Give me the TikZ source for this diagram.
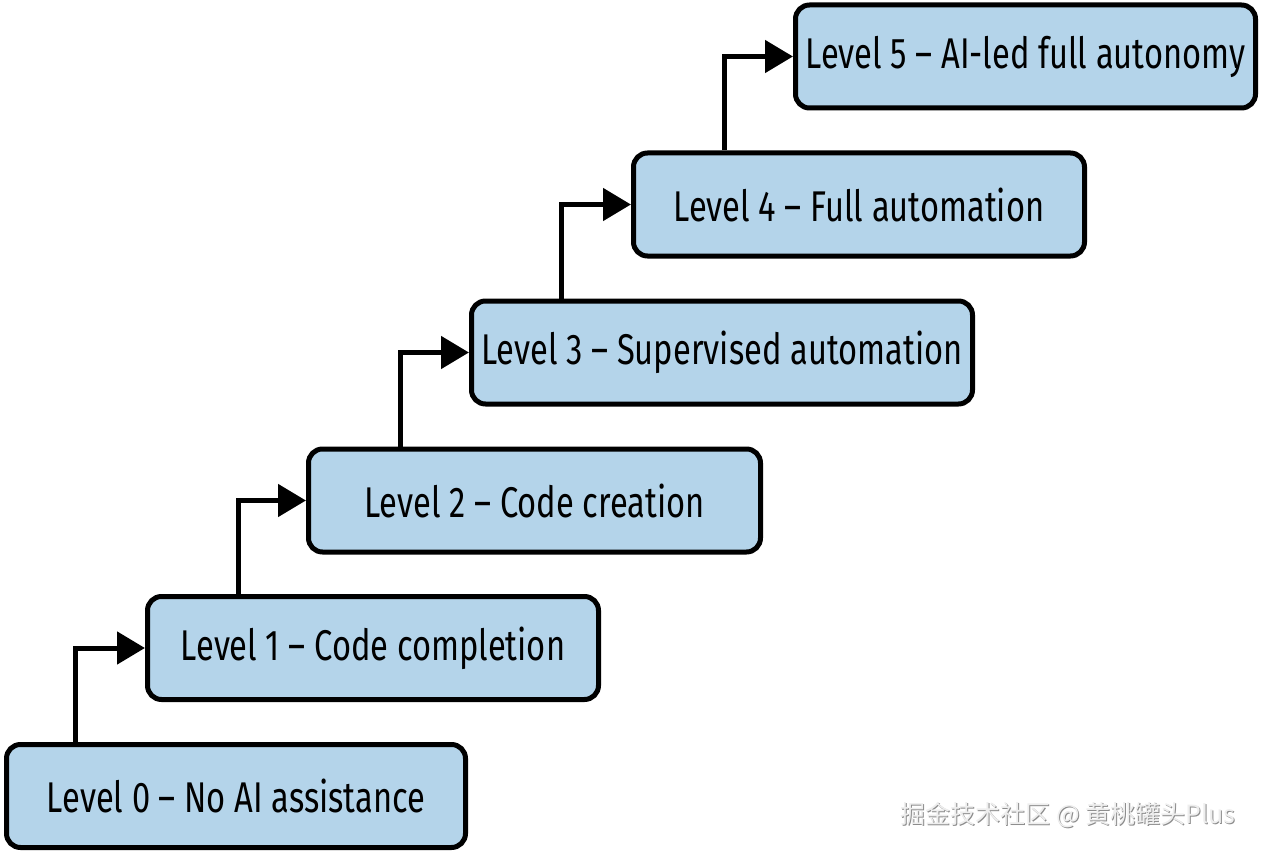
\documentclass[tikz,border=0pt]{standalone}
\usepackage{fontspec}
\setmainfont{Fira Sans}[FakeStretch=0.76]
\newfontfamily\cjk{Noto Sans CJK SC}
\usetikzlibrary{arrows.meta}
\definecolor{boxblue}{RGB}{180,212,234}
\definecolor{wmgrey}{RGB}{238,238,238}
\definecolor{wmshadow}{RGB}{140,140,140}
\tikzset{
  level/.style={draw=black, line width=5pt, fill=boxblue, rounded corners=14pt,
    minimum height=103pt, inner sep=0pt, font=\fontsize{43}{47}\selectfont, text=black},
  arr/.style={draw=black, line width=5pt, -{Triangle[length=28pt,width=32pt]}}
}
\begin{document}
\begin{tikzpicture}[x=1pt,y=-1pt]
\useasboundingbox (0,0) rectangle (1261,853);
\node[level, minimum width=459pt] (L0) at (236,796) {Level 0 – No AI assistance};
\node[level, minimum width=451pt] (L1) at (373,648) {Level 1 – Code completion};
\node[level, minimum width=452pt] (L2) at (534.5,500.5) {Level 2 – Code creation};
\node[level, minimum width=501pt] (L3) at (722,352.5) {Level 3 – Supervised automation};
\node[level, minimum width=451pt] (L4) at (859,204.5) {Level 4 – Full automation};
\node[level, minimum width=460pt] (L5) at (1025.5,56.5) {Level 5 – AI-led full autonomy};
\draw[arr] (L0.north -| 75,0) |- (L1.west);
\draw[arr] (L1.north -| 238,0) |- (L2.west);
\draw[arr] (L2.north -| 400,0) |- (L3.west);
\draw[arr] (L3.north -| 561,0) |- (L4.west);
\draw[arr] (L4.north -| 724,0) |- (L5.west);
\node[font=\cjk\fontsize{25}{28}\selectfont, text=wmshadow, inner sep=0pt] (wms) at (1069,816) {掘金技术社区 @ 黄桃罐头Plus};
\node[font=\cjk\fontsize{25}{28}\selectfont, text=wmgrey, inner sep=0pt] (wm) at (1068,815) {掘金技术社区 @ 黄桃罐头Plus};
\end{tikzpicture}
\end{document}
